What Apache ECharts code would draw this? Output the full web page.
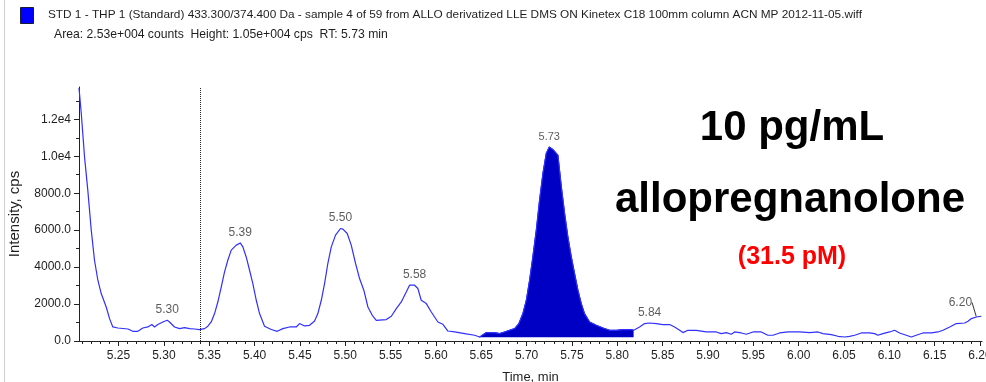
<!DOCTYPE html>
<html>
<head>
<meta charset="utf-8">
<script src="https://cdn.jsdelivr.net/npm/echarts@6/dist/echarts.min.js"></script>
<style>
  html, body { margin: 0; padding: 0; background: #fff; }
  #chart { width: 986px; height: 382px; }
</style>
</head>
<body>
<div id="chart"></div>
<script>
// Extracted ion chromatogram, m/z 433.300/374.400
const times = [
  5.2064, 5.2089, 5.2125, 5.2161, 5.2199, 5.2235, 5.2272, 5.2309, 5.2364, 5.2401,
  5.2437, 5.2492, 5.2603, 5.2658, 5.2713, 5.2768, 5.2823, 5.2867, 5.2897, 5.2933,
  5.2989, 5.3037, 5.3062, 5.3118, 5.3173, 5.3228, 5.3283, 5.3338, 5.3393, 5.3449,
  5.3485, 5.3522, 5.3559, 5.3595, 5.3633, 5.3669, 5.3705, 5.3743, 5.3798, 5.3842,
  5.3871, 5.3908, 5.3945, 5.3981, 5.4019, 5.4055, 5.4110, 5.4184, 5.4250, 5.4312,
  5.4386, 5.4460, 5.4496, 5.4551, 5.4607, 5.4662, 5.4698, 5.4736, 5.4772, 5.4808,
  5.4846, 5.4893, 5.4948, 5.4974, 5.5022, 5.5066, 5.5114, 5.5158, 5.5205, 5.5250,
  5.5298, 5.5342, 5.5452, 5.5508, 5.5563, 5.5618, 5.5673, 5.5709, 5.5765, 5.5801,
  5.5838, 5.5894, 5.5949, 5.6022, 5.6077, 5.6132, 5.6206, 5.6317, 5.6427, 5.6482,
  5.6500, 5.6555, 5.6647, 5.6702, 5.6757, 5.6812, 5.6867, 5.6915, 5.6959, 5.6997,
  5.7033, 5.7069, 5.7107, 5.7143, 5.7180, 5.7217, 5.7250, 5.7290, 5.7345, 5.7383,
  5.7419, 5.7455, 5.7493, 5.7529, 5.7566, 5.7603, 5.7639, 5.7695, 5.7769, 5.7842,
  5.7916, 5.7989, 5.8062, 5.8155, 5.8180, 5.8191, 5.8246, 5.8301, 5.8356, 5.8430,
  5.8503, 5.8577, 5.8632, 5.8688, 5.8724, 5.8779, 5.8871, 5.8982, 5.9092, 5.9147,
  5.9202, 5.9257, 5.9294, 5.9368, 5.9423, 5.9496, 5.9588, 5.9661, 5.9716, 5.9790,
  5.9882, 6.0012, 6.0121, 6.0213, 6.0268, 6.0360, 6.0433, 6.0507, 6.0562, 6.0617,
  6.0691, 6.0783, 6.0838, 6.0874, 6.0929, 6.1003, 6.1058, 6.1113, 6.1187, 6.1242,
  6.1297, 6.1371, 6.1463, 6.1537, 6.1592, 6.1666, 6.1739, 6.1831, 6.1868, 6.1905,
  6.1960, 6.2015
];
const intensity = [
  13700, 12330, 9970, 8170, 6000, 4370, 3290, 2570, 1840, 1210,
  760, 705, 650, 525, 525, 705, 760, 890, 760, 890,
  1030, 1120, 1030, 760, 670, 725, 670, 650, 620, 670,
  800, 1030, 1485, 2110, 2930, 3740, 4370, 4920, 5190, 5310,
  5095, 4550, 3830, 3110, 2205, 1485, 800, 620, 525, 670,
  760, 760, 945, 815, 850, 1085, 1485, 2205, 3110, 4195,
  5095, 5730, 6090, 6055, 5820, 5190, 4195, 3380, 2750, 1840,
  1390, 1120, 1160, 1340, 1755, 2115, 2655, 3020, 3020, 2840,
  2205, 2025, 1570, 1030, 905, 540, 490, 400, 310, 215,
  310, 455, 455, 400, 490, 580, 670, 945, 1485, 2205,
  3290, 4550, 6000, 7625, 9070, 10160, 10500, 10370, 10065, 8350,
  6905, 5640, 4550, 3650, 2750, 2025, 1485, 1030, 850, 705,
  580, 580, 615, 615, 580, 520, 760, 945, 975, 945,
  890, 890, 760, 580, 455, 580, 580, 490, 490, 400,
  455, 365, 490, 435, 365, 490, 490, 310, 310, 435,
  490, 490, 455, 490, 400, 345, 255, 215, 255, 310,
  435, 435, 400, 310, 400, 490, 580, 435, 310, 215,
  310, 435, 435, 490, 580, 760, 945, 975, 1065, 1215,
  1300, 1340
];

// Integrated peak window (RT 5.73)
const integrationStart = 5.648;
const integrationEnd = 5.818;
const integrationBaseline = 200;

// Apex labels
const peakTimes = [5.3037, 5.3842, 5.4948, 5.5765, 5.7250, 5.8356, 6.1960];
const peakLabels = ['5.30', '5.39', '5.50', '5.58', '5.73', '5.84', '6.20'];

// Axis ticks
const xTickValues = [5.25, 5.30, 5.35, 5.40, 5.45, 5.50, 5.55, 5.60, 5.65, 5.70,
  5.75, 5.80, 5.85, 5.90, 5.95, 6.00, 6.05, 6.10, 6.15, 6.20];
const xTickLabels = ['5.25', '5.30', '5.35', '5.40', '5.45', '5.50', '5.55', '5.60', '5.65', '5.70',
  '5.75', '5.80', '5.85', '5.90', '5.95', '6.00', '6.05', '6.10', '6.15', '6.20'];
const xMinorTicks = [5.21, 5.22, 5.23, 5.24, 5.26, 5.27, 5.28, 5.29, 5.31, 5.32, 5.33, 5.34,
  5.36, 5.37, 5.38, 5.39, 5.41, 5.42, 5.43, 5.44, 5.46, 5.47, 5.48, 5.49,
  5.51, 5.52, 5.53, 5.54, 5.56, 5.57, 5.58, 5.59, 5.61, 5.62, 5.63, 5.64,
  5.66, 5.67, 5.68, 5.69, 5.71, 5.72, 5.73, 5.74, 5.76, 5.77, 5.78, 5.79,
  5.81, 5.82, 5.83, 5.84, 5.86, 5.87, 5.88, 5.89, 5.91, 5.92, 5.93, 5.94,
  5.96, 5.97, 5.98, 5.99, 6.01, 6.02, 6.03, 6.04, 6.06, 6.07, 6.08, 6.09,
  6.11, 6.12, 6.13, 6.14, 6.16, 6.17, 6.18, 6.19];
const yTickValues = [0, 2000, 4000, 6000, 8000, 10000, 12000];
const yTickLabels = ['0.0', '2000.0', '4000.0', '6000.0', '8000.0', '1.0e4', '1.2e4'];
const yMinorTicks = [1000, 3000, 5000, 7000, 9000, 11000, 13000];

const dottedMarkerTime = 5.336;

const X_MIN = 5.2064, X_MAX = 6.2022, Y_MAX = 13750;

const trace = times.map((t, i) => [t, intensity[i]]);
const integrated = trace.filter(p => p[0] >= integrationStart - 1e-6 && p[0] <= integrationEnd + 1e-6);
const lastPeak = peakTimes.length - 1;
const apexes = peakTimes.map((t, i) => {
  const idx = times.indexOf(t);
  const item = { value: [t, intensity[idx]], name: peakLabels[i] };
  // the last apex sits at the plot edge, so its label is pulled aside with a leader line
  if (i === lastPeak) item.labelLine = { show: true, lineStyle: { color: '#333', width: 1 } };
  if (i === 4) item.label = { fontSize: 11 };
  return item;
});

const textColor = '#1e1e1e';
const font = 'Arial, "Liberation Sans", sans-serif';

const chart = echarts.init(document.getElementById('chart'), null, { renderer: 'canvas' });
chart.setOption({
  animation: false,
  backgroundColor: '#ffffff',
  grid: { left: 79, right: 4, top: 87, bottom: 41, containLabel: false, outerBoundsMode: 'none' },
  xAxis: [{
    type: 'value', min: X_MIN, max: X_MAX,
    name: 'Time, min', nameLocation: 'middle', nameGap: 30,
    nameTextStyle: { fontFamily: font, fontSize: 13, color: textColor },
    axisLine: { show: true, lineStyle: { color: '#222', width: 1 } },
    axisTick: { show: true, length: 5, customValues: xTickValues, lineStyle: { color: '#222' } },
    axisLabel: {
      customValues: xTickValues, margin: 9, fontFamily: font, fontSize: 12, color: textColor,
      formatter: v => { const k = xTickValues.findIndex(x => Math.abs(x - v) < 1e-6); return k >= 0 ? xTickLabels[k] : ''; }
    },
    splitLine: { show: false }
  }, {
    type: 'value', min: X_MIN, max: X_MAX, position: 'bottom',
    axisLine: { show: false },
    axisTick: { show: true, length: 3, customValues: xMinorTicks, lineStyle: { color: '#222' } },
    axisLabel: { show: false },
    splitLine: { show: false }
  }],
  yAxis: [{
    type: 'value', min: 0, max: Y_MAX,
    name: 'Intensity, cps', nameLocation: 'middle', nameGap: 57, nameRotate: 90,
    nameTextStyle: { fontFamily: font, fontSize: 15, color: textColor },
    axisLine: { show: true, lineStyle: { color: '#222', width: 1 } },
    axisTick: { show: true, length: 5, customValues: yTickValues, lineStyle: { color: '#222' } },
    axisLabel: {
      customValues: yTickValues, margin: 8, fontFamily: font, fontSize: 12, color: textColor,
      formatter: v => { const k = yTickValues.indexOf(v); return k >= 0 ? yTickLabels[k] : ''; }
    },
    splitLine: { show: false }
  }, {
    type: 'value', min: 0, max: Y_MAX, position: 'left',
    axisLine: { show: false },
    axisTick: { show: true, length: 3, customValues: yMinorTicks, lineStyle: { color: '#222' } },
    axisLabel: { show: false },
    splitLine: { show: false }
  }],
  series: [{
    name: 'integrated',
    type: 'line',
    data: integrated,
    symbol: 'none',
    lineStyle: { width: 1, color: '#0000c4' },
    areaStyle: { color: '#0000c4', opacity: 1, origin: integrationBaseline },
    z: 2
  }, {
    name: 'XIC',
    type: 'line',
    data: trace,
    symbol: 'none',
    lineStyle: { width: 1.2, color: '#3030ff' },
    markLine: {
      silent: true, symbol: ['none', 'none'],
      label: { show: false },
      lineStyle: { type: 'dotted', color: '#222', width: 1 },
      data: [{ xAxis: dottedMarkerTime }]
    },
    z: 3
  }, {
    name: 'apex',
    type: 'scatter',
    data: apexes,
    symbol: 'circle',
    symbolSize: 1,
    itemStyle: { color: 'rgba(0,0,0,0)' },
    silent: true,
    label: {
      show: true, position: 'top', distance: 4,
      formatter: p => p.name,
      fontFamily: font, fontSize: 12, color: '#333'
    },
    labelLayout: p => (p.dataIndex === lastPeak ? { dx: -16, dy: -4 } : {}),
    labelLine: { show: false },
    z: 4
  }],
  graphic: [
    { type: 'line', shape: { x1: 4.5, y1: 0, x2: 4.5, y2: 382 }, style: { stroke: '#cfcfcf', lineWidth: 1 } },
    { type: 'rect', shape: { x: 20.5, y: 7.5, width: 13, height: 16 }, style: { fill: '#0000ff', stroke: '#1a1a3a', lineWidth: 1 } },
    { type: 'text', left: 48, top: 9, style: { text: 'STD 1 - THP 1 (Standard) 433.300/374.400 Da - sample 4 of 59 from ALLO derivatized LLE DMS ON Kinetex C18 100mm column ACN MP 2012-11-05.wiff', font: '11.8px ' + font, fill: textColor } },
    { type: 'text', left: 54, top: 29, style: { text: 'Area: 2.53e+004 counts  Height: 1.05e+004 cps  RT: 5.73 min', font: '12.2px ' + font, fill: textColor } },
    { type: 'text', x: 792, y: 128, style: { text: '10 pg/mL', font: 'bold 42px ' + font, fill: '#000', align: 'center', verticalAlign: 'middle' } },
    { type: 'text', x: 790, y: 200, style: { text: 'allopregnanolone', font: 'bold 42px ' + font, fill: '#000', align: 'center', verticalAlign: 'middle' } },
    { type: 'text', x: 792, y: 257, style: { text: '(31.5 pM)', font: 'bold 25px ' + font, fill: '#ff0000', align: 'center', verticalAlign: 'middle' } }
  ]
});
</script>
</body>
</html>
